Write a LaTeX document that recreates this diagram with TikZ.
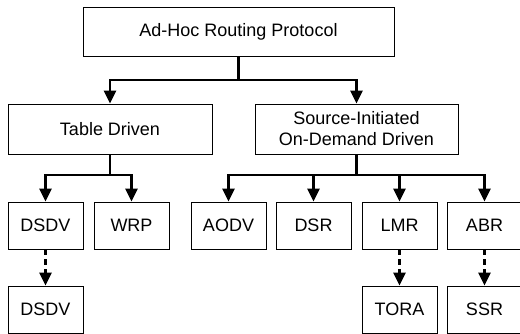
\documentclass[tikz,border=0pt]{standalone}
\usepackage{fontspec}
\setmainfont{Liberation Sans}
\usetikzlibrary{arrows.meta}
\tikzset{
  box/.style={draw, line width=0.8pt, inner sep=0pt, align=center, font=\fontsize{18}{21}\selectfont},
  link/.style={line width=2.5pt, -{Triangle[width=12pt,length=13pt]}},
  dashlink/.style={link, dash pattern=on 6pt off 4pt}
}
\begin{document}
\begin{tikzpicture}[x=1pt,y=-1pt]
            \clip (0,0) rectangle (520,334);

            \node[box,minimum width=311pt,minimum height=49pt] (adhoc) at (238.5, 31.5) {Ad-Hoc Routing Protocol};
            \node[box,minimum width=204pt,minimum height=50pt] (table) at (110, 129) {Table Driven};
            \node[box,minimum width=203pt,minimum height=50pt] (source) at (356.5, 129) {Source-Initiated\\On-Demand Driven};

            \coordinate (J1) at (238.5, 80);
            \coordinate (J2) at (110, 175);
            \coordinate (J3) at (356.5, 175);

            \node[box,minimum width=75pt,minimum height=47pt] (dsdv) at (45.5, 225.5) {DSDV};
            \node[box,minimum width=75pt,minimum height=47pt] (wrp) at (131.5, 225.5) {WRP};
            \node[box,minimum width=75pt,minimum height=47pt] (aodv) at (228.5, 225.5) {AODV};
            \node[box,minimum width=75pt,minimum height=47pt] (dsr) at (313.5, 225.5) {DSR};
            \node[box,minimum width=75pt,minimum height=47pt] (lmr) at (399.5, 225.5) {LMR};
            \node[box,minimum width=75pt,minimum height=47pt] (abr) at (484.5, 225.5) {ABR};

            \node[box,minimum width=75pt,minimum height=47pt] (dsdvb) at (45.5, 309.5) {DSDV};
            \node[box,minimum width=75pt,minimum height=47pt] (tora) at (399.5, 309.5) {TORA};
            \node[box,minimum width=75pt,minimum height=47pt] (ssr) at (484.5, 309.5) {SSR};

            \draw[line width=2.5pt] (adhoc) -- (J1);
            \draw[link] (J1) -| (table);
            \draw[link] (J1) -| (source);

            \draw[line width=2.5pt] (table) -- (J2);
            \draw[link] (J2) -| (dsdv);
            \draw[link] (J2) -| (wrp);

            \draw[line width=2.5pt] (source) -- (J3);
            \draw[link] (J3) -| (aodv);
            \draw[link] (J3) -| (dsr);
            \draw[link] (J3) -| (lmr);
            \draw[link] (J3) -| (abr);

            \draw[dashlink] (dsdv) -- (dsdvb);
            \draw[dashlink] (lmr) -- (tora);
            \draw[dashlink] (abr) -- (ssr);
        \end{tikzpicture}
\end{document}
